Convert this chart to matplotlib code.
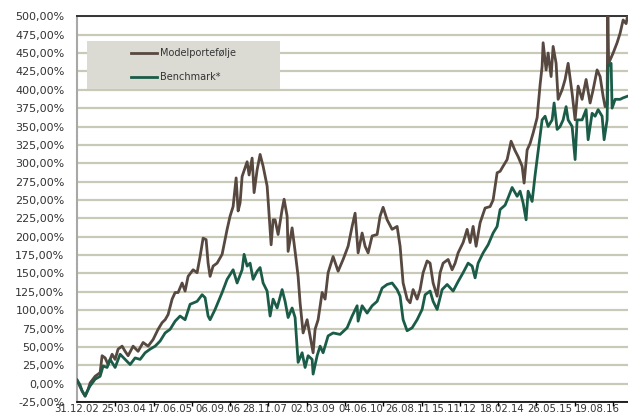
import numpy as np
import pandas as pd
import matplotlib
matplotlib.use("Agg")
import matplotlib.pyplot as plt
from matplotlib.patches import Rectangle

# ---------------- data (decimal years, cumulative return in %) ----------------
years_model = [
    2003.000, 2003.131, 2003.210, 2003.288, 2003.341, 2003.472, 2003.603, 2003.655, 2003.734, 2003.812,
    2003.917, 2003.996, 2004.074, 2004.179, 2004.258, 2004.336, 2004.467, 2004.598, 2004.729, 2004.860,
    2004.991, 2005.122, 2005.227, 2005.306, 2005.384, 2005.489, 2005.568, 2005.646, 2005.751, 2005.829,
    2005.908, 2006.039, 2006.144, 2006.222, 2006.301, 2006.380, 2006.432, 2006.484, 2006.563, 2006.668,
    2006.799, 2006.930, 2007.008, 2007.087, 2007.166, 2007.218, 2007.270, 2007.323, 2007.454, 2007.506,
    2007.585, 2007.637, 2007.716, 2007.794, 2007.873, 2007.978, 2008.004, 2008.083, 2008.135, 2008.187,
    2008.266, 2008.371, 2008.423, 2008.502, 2008.528, 2008.633, 2008.711, 2008.790, 2008.842, 2008.921,
    2009.026, 2009.104, 2009.183, 2009.235, 2009.314, 2009.419, 2009.497, 2009.576, 2009.707, 2009.838,
    2009.969, 2010.100, 2010.205, 2010.283, 2010.362, 2010.467, 2010.545, 2010.624, 2010.729, 2010.860,
    2010.938, 2011.017, 2011.122, 2011.253, 2011.384, 2011.462, 2011.541, 2011.646, 2011.724, 2011.803,
    2011.908, 2011.986, 2012.065, 2012.170, 2012.248, 2012.327, 2012.432, 2012.510, 2012.589, 2012.720,
    2012.825, 2012.903, 2012.982, 2013.113, 2013.218, 2013.296, 2013.375, 2013.453, 2013.558, 2013.689,
    2013.820, 2013.899, 2014.004, 2014.082, 2014.161, 2014.266, 2014.370, 2014.475, 2014.554, 2014.659,
    2014.711, 2014.790, 2014.868, 2014.947, 2015.052, 2015.130, 2015.183, 2015.209, 2015.287, 2015.340,
    2015.418, 2015.471, 2015.549, 2015.602, 2015.707, 2015.785, 2015.864, 2015.969, 2016.047, 2016.126,
    2016.230, 2016.335, 2016.440, 2016.519, 2016.623, 2016.702, 2016.781, 2016.833, 2016.885, 2016.904,
    2016.925, 2017.043, 2017.147, 2017.226, 2017.305, 2017.383, 2017.436,
]
values_model = [
    4, -10, -17, -8, 1, 10, 15, 38, 35, 26,
    40, 33, 47, 51, 44, 38, 51, 44, 56, 51,
    60, 74, 83, 87, 94, 115, 124, 124, 137, 126,
    146, 155, 151, 173, 198, 196, 164, 146, 160, 164,
    176, 210, 228, 241, 280, 235, 246, 282, 302, 284,
    307, 260, 291, 312, 296, 269, 250, 189, 223, 223,
    203, 237, 251, 228, 180, 212, 180, 146, 110, 69,
    87, 65, 42, 74, 87, 124, 115, 151, 173, 153,
    169, 187, 214, 232, 178, 205, 187, 178, 201, 203,
    228, 240, 223, 210, 214, 187, 137, 115, 110, 128,
    115, 128, 151, 167, 164, 137, 119, 151, 164, 169,
    155, 164, 178, 192, 210, 192, 214, 187, 219, 239,
    241, 250, 287, 289, 296, 305, 330, 317, 309, 296,
    273, 318, 327, 341, 362, 407, 432, 464, 427, 450,
    418, 459, 436, 387, 400, 414, 436, 395, 359, 405,
    387, 414, 382, 400, 427, 418, 391, 377, 380, 515,
    436, 450, 464, 477, 495, 490, 505,
]

years_bench = [
    2003.000, 2003.079, 2003.131, 2003.210, 2003.288, 2003.341, 2003.472, 2003.603, 2003.681, 2003.786,
    2003.865, 2003.996, 2004.127, 2004.258, 2004.389, 2004.520, 2004.651, 2004.782, 2004.913, 2005.044,
    2005.175, 2005.306, 2005.437, 2005.568, 2005.698, 2005.829, 2005.960, 2006.144, 2006.275, 2006.353,
    2006.432, 2006.484, 2006.615, 2006.799, 2006.930, 2007.087, 2007.192, 2007.323, 2007.375, 2007.454,
    2007.532, 2007.611, 2007.716, 2007.794, 2007.873, 2007.978, 2008.056, 2008.135, 2008.240, 2008.371,
    2008.449, 2008.528, 2008.633, 2008.711, 2008.790, 2008.895, 2008.973, 2009.052, 2009.157, 2009.183,
    2009.288, 2009.366, 2009.445, 2009.576, 2009.707, 2009.890, 2010.074, 2010.205, 2010.336, 2010.362,
    2010.467, 2010.598, 2010.729, 2010.860, 2010.991, 2011.122, 2011.253, 2011.384, 2011.462, 2011.541,
    2011.646, 2011.777, 2011.908, 2012.039, 2012.117, 2012.248, 2012.327, 2012.432, 2012.563, 2012.694,
    2012.851, 2012.982, 2013.113, 2013.244, 2013.349, 2013.427, 2013.506, 2013.637, 2013.768, 2013.899,
    2014.004, 2014.082, 2014.213, 2014.292, 2014.397, 2014.528, 2014.606, 2014.685, 2014.763, 2014.816,
    2014.921, 2014.999, 2015.078, 2015.183, 2015.261, 2015.340, 2015.445, 2015.497, 2015.576, 2015.654,
    2015.733, 2015.811, 2015.864, 2015.969, 2016.047, 2016.100, 2016.230, 2016.335, 2016.388, 2016.492,
    2016.571, 2016.650, 2016.754, 2016.807, 2016.885, 2016.912, 2016.990, 2017.016, 2017.095, 2017.226,
    2017.305, 2017.409,
]
values_bench = [
    5, -2, -10, -17, -8, -3, 6, 10, 24, 22,
    33, 22, 40, 33, 26, 35, 33, 42, 47, 51,
    58, 69, 74, 85, 92, 87, 108, 112, 121, 117,
    92, 87, 101, 124, 142, 155, 137, 155, 176, 160,
    164, 142, 153, 158, 137, 126, 92, 115, 103, 128,
    112, 90, 103, 90, 29, 42, 22, 38, 33, 13,
    38, 51, 42, 65, 69, 67, 76, 92, 106, 85,
    106, 96, 106, 112, 130, 135, 137, 128, 119, 87,
    72, 76, 87, 101, 121, 126, 112, 101, 128, 135,
    126, 139, 151, 164, 160, 144, 164, 178, 189, 205,
    214, 237, 243, 253, 267, 255, 262, 246, 223, 262,
    248, 284, 316, 359, 364, 350, 359, 382, 346, 350,
    359, 377, 359, 350, 305, 359, 359, 373, 332, 368,
    364, 373, 364, 332, 359, 432, 436, 375, 387, 387,
    389, 391,
]

series_names = ["Modelportefølje", "Benchmark*"]
x_tick_labels = ["31.12.02", "25.03.04", "17.06.05", "06.09.06", "28.11.07", "02.03.09",
                 "04.06.10", "26.08.11", "15.11.12", "18.02.14", "26.05.15", "19.08.16"]
y_ticks = list(range(-25, 501, 25))

assert len(years_model) == len(values_model)
assert len(years_bench) == len(values_bench)


def to_decimal_year(s):
    d = pd.to_datetime(s, format="%d.%m.%y")
    ndays = 366 if d.is_leap_year else 365
    return d.year + (d.dayofyear - 1) / ndays


# ---------------- figure ----------------
W, H = 628, 416
fig = plt.figure(figsize=(W / 100, H / 100), dpi=100)
fig.patch.set_facecolor("white")
ax_left, ax_right, ax_top, ax_bottom = 77, 628, 16.3, 402.0
ax = fig.add_axes([ax_left / W, (H - ax_bottom) / H, (ax_right - ax_left) / W, (ax_bottom - ax_top) / H])

brown = "#574840"
green = "#1b5c48"
text_col = "#333333"

ax.plot(years_model, values_model, color=brown, lw=2.0, label=series_names[0], zorder=4,
        solid_joinstyle="round")
ax.plot(years_bench, values_bench, color=green, lw=2.0, label=series_names[1], zorder=5,
        solid_joinstyle="round")

x0 = to_decimal_year(x_tick_labels[0])
px_per_year = 38.17
ax.set_xlim(x0, x0 + (ax_right - ax_left) / px_per_year)
ax.set_ylim(-25, 500)

# y axis
ax.set_yticks(y_ticks)
ax.set_yticklabels([f"{v:.2f}%".replace(".", ",") for v in y_ticks])
ax.tick_params(axis="y", length=0, pad=9, labelsize=8, labelcolor=text_col)
ax.yaxis.grid(True, color="#c9c9b7", lw=1.6)
ax.set_axisbelow(True)

# x axis
label_pos = [to_decimal_year(s) for s in x_tick_labels]
ax.set_xticks(label_pos)
ax.set_xticklabels(x_tick_labels)
ax.tick_params(axis="x", which="major", length=0, pad=1.5, labelsize=7.3, labelcolor=text_col)
ax.set_xticks([x0 + k * 1.003 for k in range(15)], minor=True)
ax.tick_params(axis="x", which="minor", length=3, width=1, color="black", direction="out")

# spines
ax.spines["right"].set_visible(False)
ax.spines["top"].set_color("#333333")
ax.spines["top"].set_linewidth(1.4)
ax.spines["left"].set_color("#a8a8a8")
ax.spines["left"].set_linewidth(1.5)
ax.spines["bottom"].set_color("black")
ax.spines["bottom"].set_linewidth(1.2)

# legend box
box = Rectangle((87 / W, (H - 89) / H), 193 / W, 48 / H, transform=fig.transFigure,
                facecolor="#dcdbd3", edgecolor="none", zorder=3, clip_on=False)
ax.add_patch(box)
leg = ax.legend(loc="center", bbox_to_anchor=(183.5 / W, (H - 65) / H), bbox_transform=fig.transFigure,
                frameon=False, fontsize=7, handlelength=2.67, handletextpad=0.3, labelspacing=1.45,
                borderpad=0)
for t in leg.get_texts():
    t.set_color(text_col)
leg.set_zorder(6)

fig.savefig("out.png", dpi=100)
